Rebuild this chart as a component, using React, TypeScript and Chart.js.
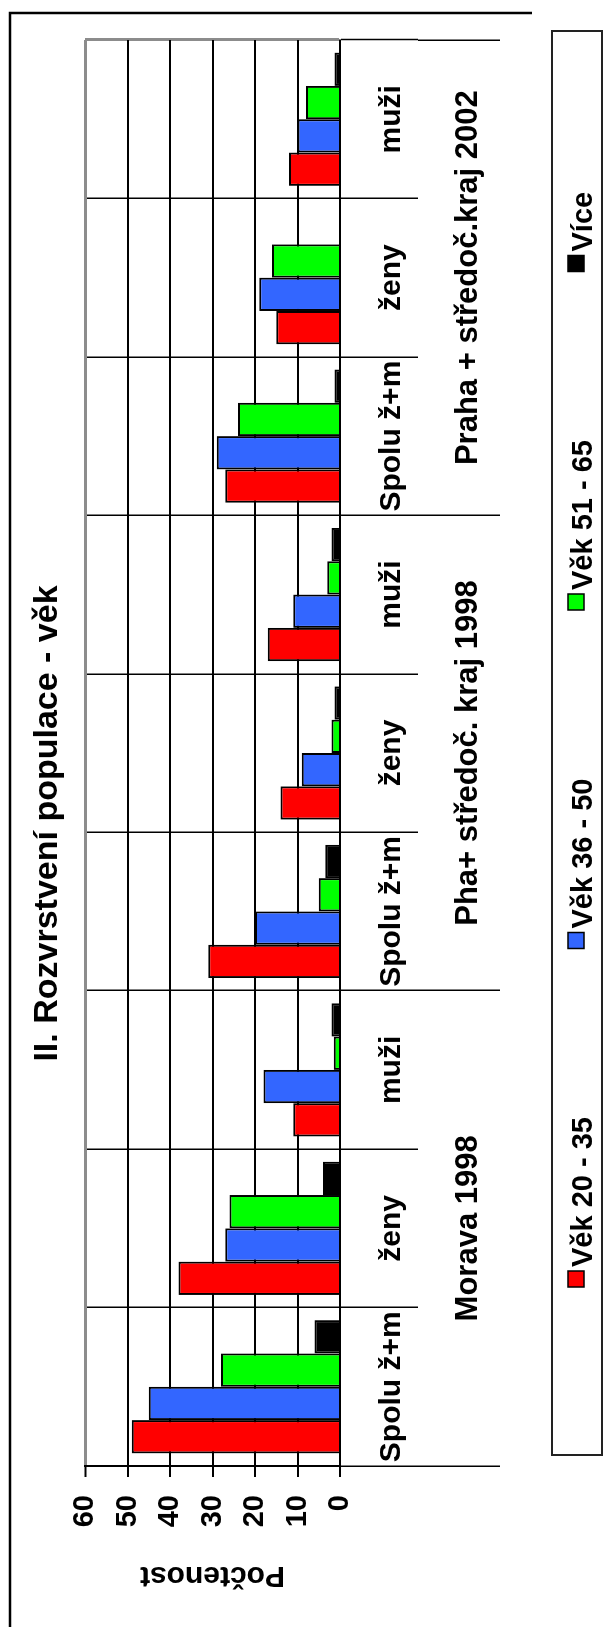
import { useEffect, useRef } from "react";
import { Chart, registerables } from "chart.js";

Chart.register(...registerables);

// ---- data ----
const categories = ["Spolu ž+m", "ženy", "muži", "Spolu ž+m", "ženy", "muži", "Spolu ž+m", "ženy", "muži"];
const groups = ["Morava 1998", "Pha+ středoč. kraj 1998", "Praha + středoč.kraj 2002"];
const seriesNames = ["Věk 20 - 35", "Věk 36 - 50", "Věk 51 - 65", "Více"];
const vek20to35 = [49, 38, 11, 31, 14, 17, 27, 15, 12];
const vek36to50 = [45, 27, 18, 20, 9, 11, 29, 19, 10];
const vek51to65 = [28, 26, 1.5, 5, 2, 3, 24, 16, 8];
const vice = [6, 4, 2, 3.5, 1.3, 2, 1.3, 0, 1.3];
const valueTicks = [0, 10, 20, 30, 40, 50, 60];
const chartTitle = "II. Rozvrstvení populace - věk";
const axisTitle = "Počtenost";

// ---- style ----
const W = 1627;
const H = 604;
const FONT = '"Liberation Sans", Arial, Helvetica, sans-serif';
const NARROW = '"Liberation Sans Narrow", "Arial Narrow", monospace';
const GRAY = "#8c8c8c";
const colors = ["#ff0000", "#3366ff", "#00ff00", "#000000"];

function hasNarrow(): boolean {
  const c = document.createElement("canvas").getContext("2d");
  if (!c) return false;
  c.font = "bold 40px monospace";
  const a = c.measureText(chartTitle).width;
  c.font = `bold 40px ${NARROW}`;
  const b = c.measureText(chartTitle).width;
  return Math.abs(a - b) > 1;
}

const decor = {
  id: "decor",
  afterDraw(chart: any) {
    const ctx = chart.ctx as CanvasRenderingContext2D;
    ctx.save();
    // outer frame (partially visible)
    ctx.strokeStyle = "#000";
    ctx.lineWidth = 2.5;
    ctx.beginPath();
    ctx.moveTo(0, 10);
    ctx.lineTo(1614, 10);
    ctx.lineTo(1614, 532);
    ctx.stroke();
    // legend box
    ctx.lineWidth = 2;
    ctx.strokeStyle = "#222";
    ctx.strokeRect(172, 552, 1424, 50);
    ctx.font = `bold 29px ${FONT}`;
    ctx.textBaseline = "alphabetic";
    ctx.textAlign = "left";
    chart.data.datasets.forEach((ds: any, i: number) => {
      const x = 340 + i * 338.5;
      ctx.fillStyle = ds.backgroundColor;
      ctx.fillRect(x, 568, 16, 16);
      ctx.lineWidth = 1.5;
      ctx.strokeStyle = "#000";
      ctx.strokeRect(x, 568, 16, 16);
      ctx.fillStyle = "#000";
      ctx.fillText(ds.label, x + 20, 592);
    });
    ctx.restore();
  },
};

export default function App() {
  const ref = useRef<HTMLCanvasElement>(null);

  useEffect(() => {
    const narrow = hasNarrow();
    const titleFont = narrow
      ? { family: NARROW, size: 42, weight: "bold", lineHeight: 1.2 }
      : { family: FONT, size: 34, weight: "bold", lineHeight: 1.2 };
    const titlePad = narrow ? { top: 22.8, bottom: 11.8 } : { top: 27.6, bottom: 16.6 };
    const groupFont = narrow
      ? { family: NARROW, size: 37, weight: "bold" }
      : { family: FONT, size: 31, weight: "bold" };
    const groupPad = narrow ? -55.7 : -50;

    const series = [vek20to35, vek36to50, vek51to65, vice];
    const chart = new Chart(ref.current as HTMLCanvasElement, {
      type: "bar",
      data: {
        labels: categories,
        datasets: series.map((d, i) => ({
          label: seriesNames[i],
          data: d,
          backgroundColor: colors[i],
          borderColor: "#000",
          borderWidth: 2,
          categoryPercentage: 0.841,
          barPercentage: 1,
          xAxisID: "x",
          yAxisID: "y",
        })),
      },
      plugins: [decor],
      options: {
        responsive: false,
        animation: false,
        devicePixelRatio: 1,
        layout: { padding: { top: 0, left: 20, right: 40, bottom: 104 } },
        plugins: {
          legend: { display: false },
          tooltip: { enabled: false },
          title: {
            display: true,
            text: chartTitle,
            color: "#000",
            font: titleFont,
            padding: titlePad,
          },
        },
        scales: {
          x: {
            type: "category",
            position: "bottom",
            offset: true,
            weight: 0,
            grid: {
              offset: true,
              drawOnChartArea: true,
              drawTicks: true,
              tickLength: 78,
              color: (c: any) => (c.index === undefined ? GRAY : "#000"),
              lineWidth: (c: any) => (c.index === undefined ? 3 : 1.5),
              tickColor: "#000",
              tickWidth: 1.5,
            },
            border: { display: true, color: "#000", width: 2 },
            ticks: {
              autoSkip: false,
              maxRotation: 0,
              minRotation: 0,
              padding: -44,
              color: "#000",
              font: { family: FONT, size: 30, weight: "bold" },
            },
            afterFit: (s: any) => {
              s.height = 78;
            },
          },
          x2: {
            type: "category",
            position: "bottom",
            labels: groups,
            offset: true,
            weight: 1,
            grid: {
              offset: true,
              drawOnChartArea: false,
              drawTicks: true,
              tickLength: 82,
              color: "#000",
              lineWidth: 1.5,
              tickColor: "#000",
              tickWidth: 1.5,
            },
            border: { display: false },
            ticks: {
              autoSkip: false,
              maxRotation: 0,
              minRotation: 0,
              padding: groupPad,
              color: "#000",
              font: groupFont,
            },
            afterFit: (s: any) => {
              s.height = 82;
            },
          },
          y: {
            min: valueTicks[0],
            max: valueTicks[valueTicks.length - 1],
            ticks: {
              stepSize: valueTicks[1] - valueTicks[0],
              padding: 18,
              color: "#000",
              font: { family: FONT, size: 29, weight: "bold" },
            },
            grid: {
              color: (c: any) => (c.tick && c.tick.value === 60 ? GRAY : "#000"),
              lineWidth: (c: any) => (c.tick && c.tick.value === 60 ? 3 : 2),
              tickLength: 11,
              tickColor: "#000",
              tickWidth: 2,
            },
            border: { display: true, color: "#000", width: 2 },
            title: {
              display: true,
              text: axisTitle,
              color: "#000",
              font: { family: FONT, size: 30, weight: "bold" },
              padding: { top: 14, bottom: 0 },
            },
            afterFit: (s: any) => {
              s.width = 141;
            },
          },
        },
      } as any,
    });
    return () => chart.destroy();
  }, []);

  return (
    <div
      style={{
        position: "fixed",
        left: 0,
        top: 0,
        width: 604,
        height: 1627,
        overflow: "hidden",
        background: "#fff",
      }}
    >
      <div
        style={{
          position: "absolute",
          left: 0,
          top: 0,
          width: W,
          height: H,
          transformOrigin: "0 0",
          transform: `translateY(${W}px) rotate(-90deg)`,
        }}
      >
        <canvas ref={ref} width={W} height={H} style={{ display: "block", width: W, height: H }} />
      </div>
    </div>
  );
}
